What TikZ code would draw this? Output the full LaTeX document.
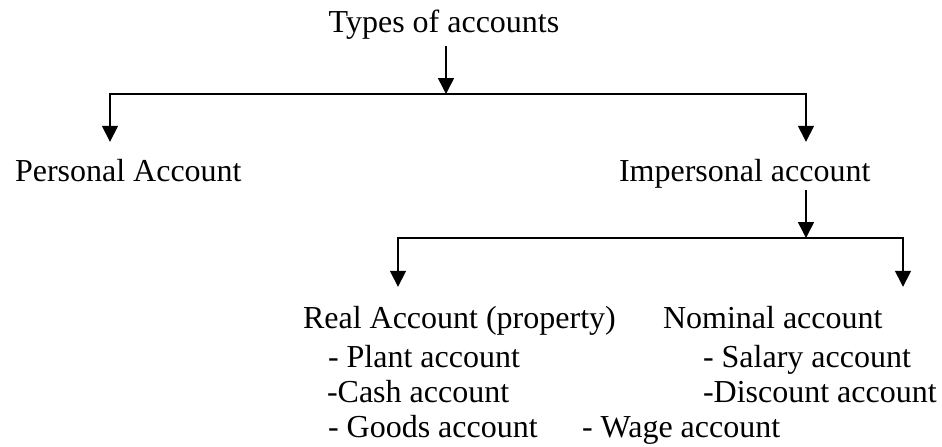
\documentclass[tikz,border=0pt]{standalone}
\usepackage{fontspec}
\setmainfont{Liberation Serif}
\usetikzlibrary{arrows.meta}
\begin{document}
\begin{tikzpicture}[x=0.5pt,y=-0.5pt,line width=0.75pt,line join=miter,
  >={Triangle[length=8pt,width=8pt]},font=\fontsize{16}{19}\selectfont,
  every node/.style={inner sep=0pt,outer sep=0pt},
  item/.style={anchor=base west}]
  \useasboundingbox (0,0) rectangle (942,446);
  \node[anchor=base] (T) at (444,32) {Types of accounts};
  \node[item] (P) at (15,181) {Personal Account};
  \node[item] (I) at (619,181) {Impersonal account};
  \node[item] (R) at (303,328) {Real Account (property)};
  \node[item] (N) at (663,328) {Nominal account};
  \node[item] (R1) at (328,367) {- Plant account};
  \node[item] (R2) at (327,402) {-Cash account};
  \node[item] (R3) at (328,437) {- Goods account};
  \node[item] (N1) at (703,367) {- Salary account};
  \node[item] (N2) at (703,402) {-Discount account};
  \node[item] (N3) at (582,437) {- Wage account};

  \coordinate (J1) at (446,94);
  \coordinate (L1) at (110,94);
  \coordinate (M1) at (806,94);
  \coordinate (L2) at (398,238);
  \coordinate (M2) at (903,238);

  \draw[->, shorten <=3.5pt] (J1 |- T.south) -- (J1);
  \draw[<->, shorten <=8.5pt, shorten >=8.5pt] (L1 |- P.north) -- (L1) -- (M1) -- (M1 |- I.north);
  \draw[->, shorten <=1pt] (M1 |- I.south) -- (M1 |- L2);
  \draw[<->, shorten <=9.5pt, shorten >=9.5pt] (L2 |- R.north) -- (L2) -- (M2) -- (M2 |- N.north);
\end{tikzpicture}
\end{document}
